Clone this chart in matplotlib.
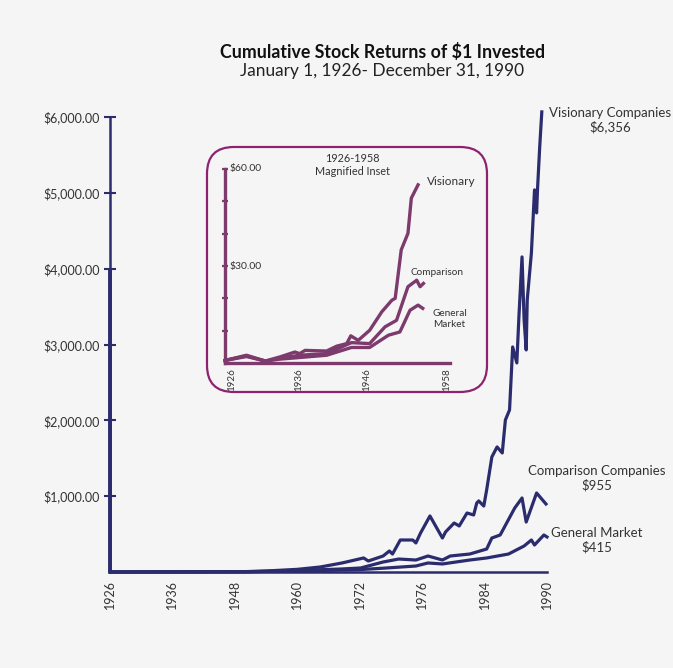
import numpy as np
import matplotlib
matplotlib.use("Agg")
import matplotlib.pyplot as plt
from matplotlib.patches import FancyBboxPatch

plt.rcParams['font.family'] = ['Lato', 'DejaVu Sans']

# ---------------- data ----------------
tick_years = [1926, 1936, 1948, 1960, 1972, 1976, 1984, 1990]
y_ticks = [1000, 2000, 3000, 4000, 5000, 6000]

vis_years = [1926, 1950, 1953.9, 1960, 1964.4, 1968.6, 1972.25, 1972.55, 1973.5, 1973.9, 1974.1,
             1974.6, 1975.4, 1975.6, 1975.9, 1977.0, 1978.6, 1979.0, 1980.1, 1980.75, 1981.75,
             1982.6, 1983.0, 1983.25, 1983.9, 1984.2, 1984.7, 1985.2, 1985.7, 1986.0, 1986.4,
             1986.7, 1987.1, 1987.3, 1987.6, 1987.8, 1988.0, 1988.1, 1988.5, 1988.8, 1989.0,
             1989.1, 1989.3, 1989.5]
vis_vals = [1, 5, 13, 35, 66, 119, 185, 145, 211, 277, 237,
            422, 422, 383, 515, 739, 448, 528, 646, 607, 778,
            752, 910, 937, 870, 1082, 1517, 1649, 1570, 2005, 2137,
            2968, 2757, 3363, 4155, 3324, 2928, 3588, 4208, 5039, 4735,
            5078, 5606, 6067]

cmp_years = [1926, 1950, 1955, 1960, 1964.4, 1968.6, 1972.06, 1973.5, 1974.5, 1975.6, 1976.75,
             1978.6, 1979.6, 1982.1, 1984.2, 1984.7, 1985.5, 1986.9, 1987.6, 1988.0, 1989.0, 1989.9]
cmp_vals = [1, 4, 10, 18, 30, 40, 53, 132, 171, 158, 211,
            158, 211, 237, 303, 448, 488, 844, 976, 659, 1042, 897]

mkt_years = [1926, 1950, 1955, 1960, 1964.4, 1971.6, 1973.5, 1975.6, 1976.75, 1978.6, 1982.1,
             1984.2, 1986.3, 1987.8, 1988.5, 1988.8, 1989.7, 1990.0]
mkt_vals = [1, 3, 8, 12, 20, 30, 50, 79, 119, 106, 158,
            185, 237, 343, 422, 356, 488, 462]

# inset (1926-1958)
in_vis_years = [1925.0, 1928.2, 1931.0, 1933.2, 1935.4, 1936.1, 1936.9, 1940.1, 1941.6, 1943.1,
                1943.7, 1944.8, 1946.5, 1948.3, 1949.8, 1950.3, 1951.2, 1952.2, 1952.7, 1953.7]
in_vis_vals = [0.8, 2.4, 0.6, 1.9, 3.4, 2.9, 3.9, 3.7, 5.2, 6.0,
               8.4, 7.0, 10.1, 15.8, 19.4, 20.0, 35.0, 40.1, 51.0, 55.1]
in_cmp_years = [1925.0, 1928.2, 1931.0, 1933.2, 1936.1, 1940.1, 1943.8, 1946.5, 1948.8, 1950.5,
                1952.2, 1953.5, 1954.0, 1954.5]
in_cmp_vals = [0.8, 2.2, 0.6, 1.5, 2.4, 2.9, 6.3, 6.0, 11.2, 13.2, 23.6, 25.6, 23.6, 24.6]
in_mkt_years = [1925.0, 1928.2, 1931.0, 1933.2, 1936.1, 1940.1, 1943.8, 1946.5, 1949.3, 1951.0,
                1952.5, 1953.7, 1954.4]
in_mkt_vals = [0.8, 2.0, 0.6, 1.2, 1.7, 2.4, 4.8, 4.8, 8.6, 9.6, 16.3, 17.9, 16.9]
in_y_ticks = [10, 20, 30, 40, 50, 60]
in_x_ticks = [1926, 1936, 1946, 1958]

# ---------------- style ----------------
BG = '#f5f5f5'
NAVY = '#2b2c6e'
PLUM = '#7d3a6c'
MAGENTA = '#8e2270'
TXT = '#333333'

fig = plt.figure(figsize=(6.73, 6.68), dpi=100)
fig.patch.set_facecolor(BG)

fig.text(0.568, 0.922, 'Cumulative Stock Returns of $1 Invested', ha='center', va='center',
         fontsize=12.8, fontweight='bold', color='#111111')
fig.text(0.568, 0.893, 'January 1, 1926- December 31, 1990', ha='center', va='center',
         fontsize=12.4, fontweight='normal', color='#222222')

# main axes
ax = fig.add_axes([110/673, 1-572/668, (547-110)/673, (572-117)/668])
ax.set_facecolor(BG)
idx = np.arange(len(tick_years), dtype=float)
fwd = lambda x: np.interp(x, tick_years, idx)
inv = lambda x: np.interp(x, idx, tick_years)
ax.set_xscale('function', functions=(fwd, inv))
ax.set_xlim(1926, 1990)
ax.set_ylim(0, 6000)

for yrs, vals in [(mkt_years, mkt_vals), (cmp_years, cmp_vals), (vis_years, vis_vals)]:
    ax.plot(yrs, vals, color=NAVY, lw=2.3, solid_joinstyle='round', clip_on=False)
# decorative thick stroke along the left axis
ax.plot([1926, 1926], [0, 4000], color=NAVY, lw=2.8, clip_on=False, solid_capstyle='butt')

for s in ['top', 'right']:
    ax.spines[s].set_visible(False)
for s in ['left', 'bottom']:
    ax.spines[s].set_color(NAVY)
    ax.spines[s].set_linewidth(1.8)

ax.set_yticks(y_ticks)
ax.set_yticklabels([f'${v:,.2f}' for v in y_ticks])
ax.tick_params(axis='y', direction='inout', length=9, width=1.5, color=NAVY,
               labelsize=9, labelcolor=TXT, pad=3)
ax.set_xticks(tick_years)
ax.set_xticklabels([str(y) for y in tick_years], rotation=90)
ax.tick_params(axis='x', length=0, labelsize=9, labelcolor=TXT, pad=6)
ax.minorticks_off()

# labels on the right
fig.text(610/673, 1-120/668, 'Visionary Companies\n$6,356', ha='center', va='center',
         fontsize=9.5, color=TXT, linespacing=1.15)
fig.text(597/673, 1-478/668, 'Comparison Companies\n$955', ha='center', va='center',
         fontsize=9.5, color=TXT, linespacing=1.15)
fig.text(597/673, 1-540/668, 'General Market\n$415', ha='center', va='center',
         fontsize=9.5, color=TXT, linespacing=1.15)

# inset frame
box = FancyBboxPatch((207/673, 1-392/668), (487-207)/673, (392-147)/668,
                     boxstyle='round,pad=0,rounding_size=0.04',
                     transform=fig.transFigure, facecolor='none', edgecolor=MAGENTA,
                     lw=1.6, zorder=5)
fig.patches.append(box)

# inset axes
iax = fig.add_axes([225/673, 1-363/668, (450-225)/673, (363-169)/668])
iax.set_facecolor('none')
iax.set_xlim(1925.0, 1958.45)
iax.set_ylim(0, 60)
for yrs, vals in [(in_mkt_years, in_mkt_vals), (in_cmp_years, in_cmp_vals), (in_vis_years, in_vis_vals)]:
    iax.plot(yrs, vals, color=PLUM, lw=2.4, solid_joinstyle='round', clip_on=False)
for s in ['top', 'right']:
    iax.spines[s].set_visible(False)
for s in ['left', 'bottom']:
    iax.spines[s].set_color(PLUM)
    iax.spines[s].set_linewidth(2.4)
iax.set_yticks(in_y_ticks)
iax.set_yticklabels([])
iax.tick_params(axis='y', direction='inout', length=5, width=1.6, color=PLUM)
iax.text(1925.6, 60, '$60.00', ha='left', va='center', fontsize=7.5, color=TXT)
iax.text(1925.6, 30, '$30.00', ha='left', va='center', fontsize=7.5, color=TXT)
iax.set_xticks(in_x_ticks)
iax.set_xticklabels([str(y) for y in in_x_ticks], rotation=90)
iax.tick_params(axis='x', length=0, labelsize=7, labelcolor=TXT, pad=4)

iax.text(1944.0, 61.2, '1926-1958\nMagnified Inset', ha='center', va='center',
         fontsize=7.8, color=TXT, linespacing=1.2)
iax.text(1958.6, 56, 'Visionary', ha='center', va='center', fontsize=8.5, color=TXT)
iax.text(1956.5, 28.1, 'Comparison', ha='center', va='center', fontsize=7.2, color=TXT)
iax.text(1958.4, 13.6, 'General\nMarket', ha='center', va='center', fontsize=7.2, color=TXT,
         linespacing=1.3)

fig.savefig('out.png', dpi=100, facecolor=BG)
